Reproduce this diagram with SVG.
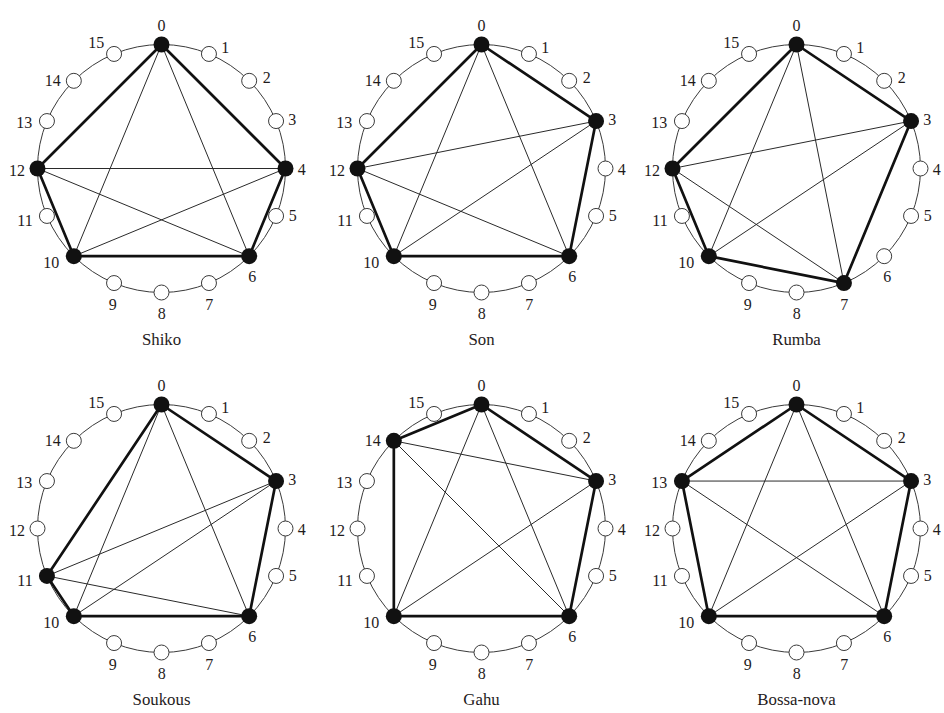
<svg xmlns="http://www.w3.org/2000/svg" width="944" height="713" viewBox="0 0 944 713">
<style>
.ring{fill:none;stroke:#3a3a3a;stroke-width:1}
.thin{stroke:#2a2a2a;stroke-width:1}
.thick{stroke:#111;stroke-width:2.7;stroke-linecap:round}
.off{fill:#fff;stroke:#3a3a3a;stroke-width:1}
.on{fill:#111}
text{font-family:"Liberation Serif","Times New Roman",serif;font-size:16px;fill:#1f1b1c;text-anchor:middle}
.cap{font-size:16.8px}
</style>
<rect width="944" height="713" fill="#fff"/>
<g id="rings">
<circle class="ring" cx="161.5" cy="168.5" r="124"/>
<circle class="ring" cx="481.5" cy="168.5" r="124"/>
<circle class="ring" cx="796.5" cy="168.5" r="124"/>
<circle class="ring" cx="161.5" cy="528.5" r="124"/>
<circle class="ring" cx="481.5" cy="528.5" r="124"/>
<circle class="ring" cx="796.5" cy="528.5" r="124"/>
</g>
<g id="connectors">
<g transform="translate(161.5,168.5)">
<line class="thin" x1="0" y1="-124" x2="87.68" y2="87.68"/>
<line class="thin" x1="0" y1="-124" x2="-87.68" y2="87.68"/>
<line class="thin" x1="124" y1="0" x2="-87.68" y2="87.68"/>
<line class="thin" x1="124" y1="0" x2="-124" y2="0"/>
<line class="thin" x1="87.68" y1="87.68" x2="-124" y2="0"/>
<line class="thick" x1="0" y1="-124" x2="124" y2="0"/>
<line class="thick" x1="124" y1="0" x2="87.68" y2="87.68"/>
<line class="thick" x1="87.68" y1="87.68" x2="-87.68" y2="87.68"/>
<line class="thick" x1="-87.68" y1="87.68" x2="-124" y2="0"/>
<line class="thick" x1="-124" y1="0" x2="0" y2="-124"/>
</g>
<g transform="translate(481.5,168.5)">
<line class="thin" x1="0" y1="-124" x2="87.68" y2="87.68"/>
<line class="thin" x1="0" y1="-124" x2="-87.68" y2="87.68"/>
<line class="thin" x1="114.56" y1="-47.45" x2="-87.68" y2="87.68"/>
<line class="thin" x1="114.56" y1="-47.45" x2="-124" y2="0"/>
<line class="thin" x1="87.68" y1="87.68" x2="-124" y2="0"/>
<line class="thick" x1="0" y1="-124" x2="114.56" y2="-47.45"/>
<line class="thick" x1="114.56" y1="-47.45" x2="87.68" y2="87.68"/>
<line class="thick" x1="87.68" y1="87.68" x2="-87.68" y2="87.68"/>
<line class="thick" x1="-87.68" y1="87.68" x2="-124" y2="0"/>
<line class="thick" x1="-124" y1="0" x2="0" y2="-124"/>
</g>
<g transform="translate(796.5,168.5)">
<line class="thin" x1="0" y1="-124" x2="47.45" y2="114.56"/>
<line class="thin" x1="0" y1="-124" x2="-87.68" y2="87.68"/>
<line class="thin" x1="114.56" y1="-47.45" x2="-87.68" y2="87.68"/>
<line class="thin" x1="114.56" y1="-47.45" x2="-124" y2="0"/>
<line class="thin" x1="47.45" y1="114.56" x2="-124" y2="0"/>
<line class="thick" x1="0" y1="-124" x2="114.56" y2="-47.45"/>
<line class="thick" x1="114.56" y1="-47.45" x2="47.45" y2="114.56"/>
<line class="thick" x1="47.45" y1="114.56" x2="-87.68" y2="87.68"/>
<line class="thick" x1="-87.68" y1="87.68" x2="-124" y2="0"/>
<line class="thick" x1="-124" y1="0" x2="0" y2="-124"/>
</g>
<g transform="translate(161.5,528.5)">
<line class="thin" x1="0" y1="-124" x2="87.68" y2="87.68"/>
<line class="thin" x1="0" y1="-124" x2="-87.68" y2="87.68"/>
<line class="thin" x1="114.56" y1="-47.45" x2="-87.68" y2="87.68"/>
<line class="thin" x1="114.56" y1="-47.45" x2="-114.56" y2="47.45"/>
<line class="thin" x1="87.68" y1="87.68" x2="-114.56" y2="47.45"/>
<line class="thick" x1="0" y1="-124" x2="114.56" y2="-47.45"/>
<line class="thick" x1="114.56" y1="-47.45" x2="87.68" y2="87.68"/>
<line class="thick" x1="87.68" y1="87.68" x2="-87.68" y2="87.68"/>
<line class="thick" x1="-87.68" y1="87.68" x2="-114.56" y2="47.45"/>
<line class="thick" x1="-114.56" y1="47.45" x2="0" y2="-124"/>
</g>
<g transform="translate(481.5,528.5)">
<line class="thin" x1="0" y1="-124" x2="87.68" y2="87.68"/>
<line class="thin" x1="0" y1="-124" x2="-87.68" y2="87.68"/>
<line class="thin" x1="114.56" y1="-47.45" x2="-87.68" y2="87.68"/>
<line class="thin" x1="114.56" y1="-47.45" x2="-87.68" y2="-87.68"/>
<line class="thin" x1="87.68" y1="87.68" x2="-87.68" y2="-87.68"/>
<line class="thick" x1="0" y1="-124" x2="114.56" y2="-47.45"/>
<line class="thick" x1="114.56" y1="-47.45" x2="87.68" y2="87.68"/>
<line class="thick" x1="87.68" y1="87.68" x2="-87.68" y2="87.68"/>
<line class="thick" x1="-87.68" y1="87.68" x2="-87.68" y2="-87.68"/>
<line class="thick" x1="-87.68" y1="-87.68" x2="0" y2="-124"/>
</g>
<g transform="translate(796.5,528.5)">
<line class="thin" x1="0" y1="-124" x2="87.68" y2="87.68"/>
<line class="thin" x1="0" y1="-124" x2="-87.68" y2="87.68"/>
<line class="thin" x1="114.56" y1="-47.45" x2="-87.68" y2="87.68"/>
<line class="thin" x1="114.56" y1="-47.45" x2="-114.56" y2="-47.45"/>
<line class="thin" x1="87.68" y1="87.68" x2="-114.56" y2="-47.45"/>
<line class="thick" x1="0" y1="-124" x2="114.56" y2="-47.45"/>
<line class="thick" x1="114.56" y1="-47.45" x2="87.68" y2="87.68"/>
<line class="thick" x1="87.68" y1="87.68" x2="-87.68" y2="87.68"/>
<line class="thick" x1="-87.68" y1="87.68" x2="-114.56" y2="-47.45"/>
<line class="thick" x1="-114.56" y1="-47.45" x2="0" y2="-124"/>
</g>
</g>

<g id="shiko" transform="translate(161.5,168.5)">
<g id="shiko-n0"><circle class="on" cx="0" cy="-124" r="8"/><text x="0" y="-138">0</text></g>
<g id="shiko-n1"><circle class="off" cx="47.45" cy="-114.56" r="7.5"/><text x="63.8" y="-115.4">1</text></g>
<g id="shiko-n2"><circle class="off" cx="87.68" cy="-87.68" r="7.5"/><text x="105.2" y="-85.7">2</text></g>
<g id="shiko-n3"><circle class="off" cx="114.56" cy="-47.45" r="7.5"/><text x="130.8" y="-43.6">3</text></g>
<g id="shiko-n4"><circle class="on" cx="124" cy="0" r="8"/><text x="140.2" y="6.3">4</text></g>
<g id="shiko-n5"><circle class="off" cx="114.56" cy="47.45" r="7.5"/><text x="131.2" y="52.9">5</text></g>
<g id="shiko-n6"><circle class="on" cx="87.68" cy="87.68" r="8"/><text x="90.8" y="113.7">6</text></g>
<g id="shiko-n7"><circle class="off" cx="47.45" cy="114.56" r="7.5"/><text x="47.8" y="141.1">7</text></g>
<g id="shiko-n8"><circle class="off" cx="0" cy="124" r="7.5"/><text x="0.2" y="150.3">8</text></g>
<g id="shiko-n9"><circle class="off" cx="-47.45" cy="114.56" r="7.5"/><text x="-48.8" y="141.1">9</text></g>
<g id="shiko-n10"><circle class="on" cx="-87.68" cy="87.68" r="8"/><text x="-110.3" y="99">10</text></g>
<g id="shiko-n11"><circle class="off" cx="-114.56" cy="47.45" r="7.5"/><text x="-136.5" y="57">11</text></g>
<g id="shiko-n12"><circle class="on" cx="-124" cy="0" r="8"/><text x="-144.5" y="7">12</text></g>
<g id="shiko-n13"><circle class="off" cx="-114.56" cy="-47.45" r="7.5"/><text x="-137.2" y="-40.5">13</text></g>
<g id="shiko-n14"><circle class="off" cx="-87.68" cy="-87.68" r="7.5"/><text x="-108.8" y="-83">14</text></g>
<g id="shiko-n15"><circle class="off" cx="-47.45" cy="-114.56" r="7.5"/><text x="-65.2" y="-120.8">15</text></g>
<text class="cap" x="0" y="176">Shiko</text>
</g>

<g id="son" transform="translate(481.5,168.5)">
<g id="son-n0"><circle class="on" cx="0" cy="-124" r="8"/><text x="0" y="-138">0</text></g>
<g id="son-n1"><circle class="off" cx="47.45" cy="-114.56" r="7.5"/><text x="63.8" y="-115.4">1</text></g>
<g id="son-n2"><circle class="off" cx="87.68" cy="-87.68" r="7.5"/><text x="105.2" y="-85.7">2</text></g>
<g id="son-n3"><circle class="on" cx="114.56" cy="-47.45" r="8"/><text x="130.8" y="-43.6">3</text></g>
<g id="son-n4"><circle class="off" cx="124" cy="0" r="7.5"/><text x="140.2" y="6.3">4</text></g>
<g id="son-n5"><circle class="off" cx="114.56" cy="47.45" r="7.5"/><text x="131.2" y="52.9">5</text></g>
<g id="son-n6"><circle class="on" cx="87.68" cy="87.68" r="8"/><text x="90.8" y="113.7">6</text></g>
<g id="son-n7"><circle class="off" cx="47.45" cy="114.56" r="7.5"/><text x="47.8" y="141.1">7</text></g>
<g id="son-n8"><circle class="off" cx="0" cy="124" r="7.5"/><text x="0.2" y="150.3">8</text></g>
<g id="son-n9"><circle class="off" cx="-47.45" cy="114.56" r="7.5"/><text x="-48.8" y="141.1">9</text></g>
<g id="son-n10"><circle class="on" cx="-87.68" cy="87.68" r="8"/><text x="-110.3" y="99">10</text></g>
<g id="son-n11"><circle class="off" cx="-114.56" cy="47.45" r="7.5"/><text x="-136.5" y="57">11</text></g>
<g id="son-n12"><circle class="on" cx="-124" cy="0" r="8"/><text x="-144.5" y="7">12</text></g>
<g id="son-n13"><circle class="off" cx="-114.56" cy="-47.45" r="7.5"/><text x="-137.2" y="-40.5">13</text></g>
<g id="son-n14"><circle class="off" cx="-87.68" cy="-87.68" r="7.5"/><text x="-108.8" y="-83">14</text></g>
<g id="son-n15"><circle class="off" cx="-47.45" cy="-114.56" r="7.5"/><text x="-65.2" y="-120.8">15</text></g>
<text class="cap" x="0" y="176">Son</text>
</g>

<g id="rumba" transform="translate(796.5,168.5)">
<g id="rumba-n0"><circle class="on" cx="0" cy="-124" r="8"/><text x="0" y="-138">0</text></g>
<g id="rumba-n1"><circle class="off" cx="47.45" cy="-114.56" r="7.5"/><text x="63.8" y="-115.4">1</text></g>
<g id="rumba-n2"><circle class="off" cx="87.68" cy="-87.68" r="7.5"/><text x="105.2" y="-85.7">2</text></g>
<g id="rumba-n3"><circle class="on" cx="114.56" cy="-47.45" r="8"/><text x="130.8" y="-43.6">3</text></g>
<g id="rumba-n4"><circle class="off" cx="124" cy="0" r="7.5"/><text x="140.2" y="6.3">4</text></g>
<g id="rumba-n5"><circle class="off" cx="114.56" cy="47.45" r="7.5"/><text x="131.2" y="52.9">5</text></g>
<g id="rumba-n6"><circle class="off" cx="87.68" cy="87.68" r="7.5"/><text x="90.8" y="113.7">6</text></g>
<g id="rumba-n7"><circle class="on" cx="47.45" cy="114.56" r="8"/><text x="47.8" y="141.1">7</text></g>
<g id="rumba-n8"><circle class="off" cx="0" cy="124" r="7.5"/><text x="0.2" y="150.3">8</text></g>
<g id="rumba-n9"><circle class="off" cx="-47.45" cy="114.56" r="7.5"/><text x="-48.8" y="141.1">9</text></g>
<g id="rumba-n10"><circle class="on" cx="-87.68" cy="87.68" r="8"/><text x="-110.3" y="99">10</text></g>
<g id="rumba-n11"><circle class="off" cx="-114.56" cy="47.45" r="7.5"/><text x="-136.5" y="57">11</text></g>
<g id="rumba-n12"><circle class="on" cx="-124" cy="0" r="8"/><text x="-144.5" y="7">12</text></g>
<g id="rumba-n13"><circle class="off" cx="-114.56" cy="-47.45" r="7.5"/><text x="-137.2" y="-40.5">13</text></g>
<g id="rumba-n14"><circle class="off" cx="-87.68" cy="-87.68" r="7.5"/><text x="-108.8" y="-83">14</text></g>
<g id="rumba-n15"><circle class="off" cx="-47.45" cy="-114.56" r="7.5"/><text x="-65.2" y="-120.8">15</text></g>
<text class="cap" x="0" y="176">Rumba</text>
</g>

<g id="soukous" transform="translate(161.5,528.5)">
<g id="soukous-n0"><circle class="on" cx="0" cy="-124" r="8"/><text x="0" y="-138">0</text></g>
<g id="soukous-n1"><circle class="off" cx="47.45" cy="-114.56" r="7.5"/><text x="63.8" y="-115.4">1</text></g>
<g id="soukous-n2"><circle class="off" cx="87.68" cy="-87.68" r="7.5"/><text x="105.2" y="-85.7">2</text></g>
<g id="soukous-n3"><circle class="on" cx="114.56" cy="-47.45" r="8"/><text x="130.8" y="-43.6">3</text></g>
<g id="soukous-n4"><circle class="off" cx="124" cy="0" r="7.5"/><text x="140.2" y="6.3">4</text></g>
<g id="soukous-n5"><circle class="off" cx="114.56" cy="47.45" r="7.5"/><text x="131.2" y="52.9">5</text></g>
<g id="soukous-n6"><circle class="on" cx="87.68" cy="87.68" r="8"/><text x="90.8" y="113.7">6</text></g>
<g id="soukous-n7"><circle class="off" cx="47.45" cy="114.56" r="7.5"/><text x="47.8" y="141.1">7</text></g>
<g id="soukous-n8"><circle class="off" cx="0" cy="124" r="7.5"/><text x="0.2" y="150.3">8</text></g>
<g id="soukous-n9"><circle class="off" cx="-47.45" cy="114.56" r="7.5"/><text x="-48.8" y="141.1">9</text></g>
<g id="soukous-n10"><circle class="on" cx="-87.68" cy="87.68" r="8"/><text x="-110.3" y="99">10</text></g>
<g id="soukous-n11"><circle class="on" cx="-114.56" cy="47.45" r="8"/><text x="-136.5" y="57">11</text></g>
<g id="soukous-n12"><circle class="off" cx="-124" cy="0" r="7.5"/><text x="-144.5" y="7">12</text></g>
<g id="soukous-n13"><circle class="off" cx="-114.56" cy="-47.45" r="7.5"/><text x="-137.2" y="-40.5">13</text></g>
<g id="soukous-n14"><circle class="off" cx="-87.68" cy="-87.68" r="7.5"/><text x="-108.8" y="-83">14</text></g>
<g id="soukous-n15"><circle class="off" cx="-47.45" cy="-114.56" r="7.5"/><text x="-65.2" y="-120.8">15</text></g>
<text class="cap" x="0" y="176">Soukous</text>
</g>

<g id="gahu" transform="translate(481.5,528.5)">
<g id="gahu-n0"><circle class="on" cx="0" cy="-124" r="8"/><text x="0" y="-138">0</text></g>
<g id="gahu-n1"><circle class="off" cx="47.45" cy="-114.56" r="7.5"/><text x="63.8" y="-115.4">1</text></g>
<g id="gahu-n2"><circle class="off" cx="87.68" cy="-87.68" r="7.5"/><text x="105.2" y="-85.7">2</text></g>
<g id="gahu-n3"><circle class="on" cx="114.56" cy="-47.45" r="8"/><text x="130.8" y="-43.6">3</text></g>
<g id="gahu-n4"><circle class="off" cx="124" cy="0" r="7.5"/><text x="140.2" y="6.3">4</text></g>
<g id="gahu-n5"><circle class="off" cx="114.56" cy="47.45" r="7.5"/><text x="131.2" y="52.9">5</text></g>
<g id="gahu-n6"><circle class="on" cx="87.68" cy="87.68" r="8"/><text x="90.8" y="113.7">6</text></g>
<g id="gahu-n7"><circle class="off" cx="47.45" cy="114.56" r="7.5"/><text x="47.8" y="141.1">7</text></g>
<g id="gahu-n8"><circle class="off" cx="0" cy="124" r="7.5"/><text x="0.2" y="150.3">8</text></g>
<g id="gahu-n9"><circle class="off" cx="-47.45" cy="114.56" r="7.5"/><text x="-48.8" y="141.1">9</text></g>
<g id="gahu-n10"><circle class="on" cx="-87.68" cy="87.68" r="8"/><text x="-110.3" y="99">10</text></g>
<g id="gahu-n11"><circle class="off" cx="-114.56" cy="47.45" r="7.5"/><text x="-136.5" y="57">11</text></g>
<g id="gahu-n12"><circle class="off" cx="-124" cy="0" r="7.5"/><text x="-144.5" y="7">12</text></g>
<g id="gahu-n13"><circle class="off" cx="-114.56" cy="-47.45" r="7.5"/><text x="-137.2" y="-40.5">13</text></g>
<g id="gahu-n14"><circle class="on" cx="-87.68" cy="-87.68" r="8"/><text x="-108.8" y="-83">14</text></g>
<g id="gahu-n15"><circle class="off" cx="-47.45" cy="-114.56" r="7.5"/><text x="-65.2" y="-120.8">15</text></g>
<text class="cap" x="0" y="176">Gahu</text>
</g>

<g id="bossa-nova" transform="translate(796.5,528.5)">
<g id="bossa-n0"><circle class="on" cx="0" cy="-124" r="8"/><text x="0" y="-138">0</text></g>
<g id="bossa-n1"><circle class="off" cx="47.45" cy="-114.56" r="7.5"/><text x="63.8" y="-115.4">1</text></g>
<g id="bossa-n2"><circle class="off" cx="87.68" cy="-87.68" r="7.5"/><text x="105.2" y="-85.7">2</text></g>
<g id="bossa-n3"><circle class="on" cx="114.56" cy="-47.45" r="8"/><text x="130.8" y="-43.6">3</text></g>
<g id="bossa-n4"><circle class="off" cx="124" cy="0" r="7.5"/><text x="140.2" y="6.3">4</text></g>
<g id="bossa-n5"><circle class="off" cx="114.56" cy="47.45" r="7.5"/><text x="131.2" y="52.9">5</text></g>
<g id="bossa-n6"><circle class="on" cx="87.68" cy="87.68" r="8"/><text x="90.8" y="113.7">6</text></g>
<g id="bossa-n7"><circle class="off" cx="47.45" cy="114.56" r="7.5"/><text x="47.8" y="141.1">7</text></g>
<g id="bossa-n8"><circle class="off" cx="0" cy="124" r="7.5"/><text x="0.2" y="150.3">8</text></g>
<g id="bossa-n9"><circle class="off" cx="-47.45" cy="114.56" r="7.5"/><text x="-48.8" y="141.1">9</text></g>
<g id="bossa-n10"><circle class="on" cx="-87.68" cy="87.68" r="8"/><text x="-110.3" y="99">10</text></g>
<g id="bossa-n11"><circle class="off" cx="-114.56" cy="47.45" r="7.5"/><text x="-136.5" y="57">11</text></g>
<g id="bossa-n12"><circle class="off" cx="-124" cy="0" r="7.5"/><text x="-144.5" y="7">12</text></g>
<g id="bossa-n13"><circle class="on" cx="-114.56" cy="-47.45" r="8"/><text x="-137.2" y="-40.5">13</text></g>
<g id="bossa-n14"><circle class="off" cx="-87.68" cy="-87.68" r="7.5"/><text x="-108.8" y="-83">14</text></g>
<g id="bossa-n15"><circle class="off" cx="-47.45" cy="-114.56" r="7.5"/><text x="-65.2" y="-120.8">15</text></g>
<text class="cap" x="0" y="176">Bossa-nova</text>
</g>
</svg>
